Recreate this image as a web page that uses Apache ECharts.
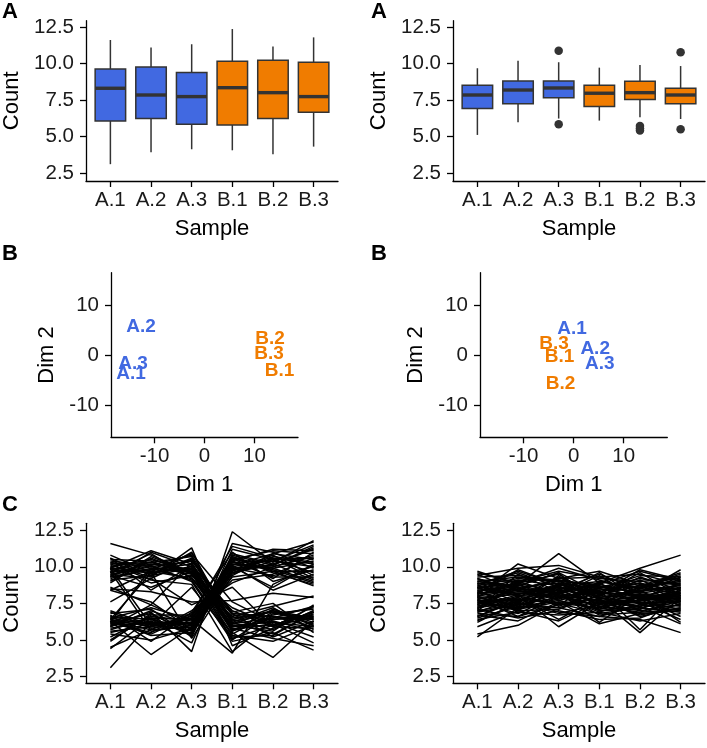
<!DOCTYPE html>
<html>
<head>
<meta charset="utf-8">
<script src="https://cdn.jsdelivr.net/npm/echarts@6/dist/echarts.min.js"></script>
<style>html,body{margin:0;padding:0;background:#fff}#c{width:707px;height:748px}</style>
</head>
<body>
<div id="c"></div>
<script>
// ---------- data ----------
const samples = ['A.1', 'A.2', 'A.3', 'B.1', 'B.2', 'B.3'];
const sampleGroup = ['A', 'A', 'A', 'B', 'B', 'B'];
const yTicks = [2.5, 5.0, 7.5, 10.0, 12.5];
const dimTicks = [-10, 0, 10];

// boxplot stats per sample: [lower whisker, Q1, median, Q3, upper whisker]
const boxLeft = [
  [3.12, 6.08, 8.31, 9.63, 11.61],
  [3.94, 6.24, 7.85, 9.77, 11.09],
  [4.14, 5.85, 7.74, 9.38, 11.32],
  [4.07, 5.80, 8.35, 10.15, 12.36],
  [3.80, 6.24, 8.01, 10.22, 11.16],
  [4.32, 6.67, 7.74, 10.09, 11.79]
];
const boxRight = [
  [5.12, 6.92, 7.85, 8.51, 9.68],
  [5.99, 7.26, 8.19, 8.81, 10.20],
  [6.24, 7.67, 8.33, 8.81, 10.09],
  [6.10, 7.06, 7.97, 8.51, 9.72],
  [6.33, 7.55, 8.01, 8.79, 9.90],
  [6.21, 7.26, 7.85, 8.31, 9.83]
];
// outliers (right boxplot): sample name, value
const outlierSample = ['A.3', 'A.3', 'B.2', 'B.2', 'B.2', 'B.3', 'B.3'];
const outlierValue = [10.88, 5.85, 5.73, 5.58, 5.42, 10.77, 5.51];

// MDS plots
const mdsNames = ['A.1', 'A.2', 'A.3', 'B.1', 'B.2', 'B.3'];
const mdsLeftX = [-14.7, -12.7, -14.3, 15.0, 13.1, 12.9];
const mdsLeftY = [-3.7, 5.7, -1.7, -3.1, 3.3, 0.3];
const mdsRightX = [-0.3, 4.3, 5.2, -2.8, -2.6, -3.9];
const mdsRightY = [5.3, 1.2, -1.8, -0.3, -5.8, 2.3];

// per-gene counts across samples (A.1 .. B.3)
const linesLeft = [
  [9.6, 10.2, 9.8, 5.9, 6.3, 5.6], [10.3, 9.5, 10.6, 6.2, 5.4, 6.8],
  [9.2, 9.9, 9.1, 5.1, 6.0, 6.5], [11.6, 10.8, 9.6, 6.8, 6.6, 5.9],
  [9.9, 11.1, 10.2, 5.6, 7.1, 6.2], [10.1, 9.3, 11.3, 4.6, 5.8, 7.0],
  [9.4, 8.6, 9.7, 6.5, 6.9, 6.4], [10.5, 10.4, 9.3, 5.3, 4.9, 6.0],
  [9.7, 9.8, 10.9, 7.6, 6.2, 5.2], [8.9, 10.6, 9.5, 6.0, 5.6, 7.4],
  [10.2, 9.1, 8.8, 4.2, 6.4, 6.7], [9.5, 10.0, 10.4, 6.9, 7.5, 5.5],
  [10.8, 9.6, 9.9, 5.8, 5.1, 4.6], [9.3, 11.0, 10.0, 6.3, 6.7, 7.2],
  [10.0, 8.9, 9.4, 7.2, 6.0, 6.9], [9.8, 10.3, 10.7, 5.5, 3.8, 6.3],
  [8.4, 9.7, 9.2, 6.6, 7.3, 8.0], [10.4, 10.1, 9.0, 4.9, 5.5, 4.3],
  [9.1, 9.4, 11.0, 6.1, 6.5, 6.6], [10.6, 8.4, 10.1, 7.0, 5.9, 5.8],
  [9.0, 10.7, 9.6, 5.0, 6.8, 7.1], [8.6, 7.4, 10.3, 5.7, 6.1, 4.8],
  [6.2, 9.9, 9.8, 6.4, 7.0, 6.0], [9.9, 6.0, 8.6, 5.2, 5.3, 6.9],
  [9.8, 9.6, 10.0, 6.0, 6.2, 5.9], [10.0, 10.5, 9.7, 5.7, 6.6, 6.4],
  [9.5, 9.2, 10.5, 6.4, 5.7, 7.0], [10.3, 10.0, 9.5, 5.4, 6.9, 6.1],
  [9.3, 9.8, 10.2, 6.7, 6.4, 6.6], [10.6, 9.4, 9.9, 6.2, 7.2, 5.7],
  [9.6, 10.9, 9.2, 5.9, 6.0, 6.9], [9.9, 9.7, 10.5, 6.8, 5.2, 6.3],
  [10.2, 10.3, 9.6, 5.6, 6.5, 7.3], [9.4, 10.1, 10.8, 6.1, 7.0, 6.5],
  [6.1, 6.4, 5.8, 10.2, 9.9, 10.4], [5.6, 5.9, 6.5, 9.6, 10.6, 9.2],
  [6.4, 5.3, 5.5, 10.8, 10.1, 11.3], [3.1, 6.2, 6.0, 9.9, 9.4, 10.0],
  [6.8, 7.1, 5.2, 11.2, 10.5, 9.6], [5.2, 6.6, 6.3, 10.5, 11.1, 10.9],
  [6.3, 4.0, 5.9, 9.3, 9.7, 8.7], [6.0, 6.9, 4.2, 12.4, 10.3, 11.8],
  [4.5, 5.7, 6.8, 10.0, 8.6, 10.2], [6.6, 6.1, 5.6, 9.8, 10.8, 9.4],
  [5.9, 7.4, 6.1, 10.6, 9.2, 11.0], [6.2, 5.5, 7.0, 8.9, 10.0, 10.7],
  [4.9, 6.8, 5.4, 11.6, 11.0, 9.9], [7.0, 6.0, 6.6, 10.3, 9.8, 8.9],
  [5.4, 5.0, 5.8, 9.5, 10.4, 11.5], [6.5, 7.2, 6.4, 4.1, 8.8, 10.1],
  [5.8, 6.3, 4.8, 10.9, 10.2, 9.1], [6.9, 5.8, 6.2, 9.1, 9.5, 10.6],
  [4.4, 6.5, 5.3, 10.4, 11.2, 11.1], [6.7, 4.9, 6.9, 11.0, 9.0, 9.8],
  [8.4, 7.6, 5.7, 9.7, 10.7, 10.3], [5.0, 6.7, 6.7, 10.1, 8.4, 9.5],
  [6.4, 9.6, 5.1, 9.4, 10.9, 11.7], [9.7, 5.6, 6.0, 10.7, 9.6, 8.8],
  [6.0, 6.2, 6.1, 10.3, 10.4, 10.0], [6.3, 5.7, 5.9, 9.8, 10.0, 10.8],
  [5.7, 6.5, 6.4, 10.6, 9.7, 9.7], [6.5, 6.0, 5.7, 10.1, 10.9, 10.5],
  [6.1, 6.8, 5.4, 9.6, 10.2, 11.2], [5.5, 6.1, 6.2, 10.4, 9.3, 9.3],
  [6.2, 5.4, 6.7, 11.4, 10.6, 10.2], [6.6, 6.4, 5.6, 9.9, 10.1, 11.4],
  [5.9, 7.0, 6.0, 10.7, 9.9, 9.0], [6.4, 5.9, 6.5, 10.0, 10.5, 10.6],
  [8.5, 8.3, 7.6, 7.7, 8.2, 7.9], [7.6, 9.2, 7.4, 8.6, 5.9, 7.3]
];
const linesRight = [
  [7.8, 8.2, 8.4, 8.0, 7.9, 7.7], [8.5, 9.1, 8.7, 7.4, 8.6, 8.1],
  [6.9, 7.4, 7.9, 8.3, 7.6, 7.3], [9.7, 8.8, 10.9, 8.9, 9.9, 10.8],
  [5.2, 7.2, 7.7, 7.1, 8.0, 7.8], [5.4, 6.0, 7.5, 6.8, 7.2, 6.9],
  [8.1, 10.2, 9.2, 9.7, 8.8, 8.4], [7.3, 7.9, 6.4, 7.9, 7.5, 8.6],
  [8.9, 8.6, 8.9, 8.5, 9.4, 9.3], [7.6, 6.8, 8.1, 7.3, 6.9, 7.1],
  [8.3, 8.9, 9.9, 9.1, 8.3, 7.5], [6.6, 7.7, 8.6, 7.8, 5.5, 7.9],
  [9.2, 8.4, 7.8, 8.7, 7.8, 8.9], [7.1, 9.5, 8.3, 6.2, 8.1, 6.2],
  [8.6, 7.6, 8.8, 8.2, 9.8, 9.1], [7.9, 8.1, 5.9, 7.6, 7.7, 8.0],
  [6.5, 7.3, 7.2, 6.6, 6.4, 5.5], [9.4, 9.9, 10.1, 9.3, 8.7, 9.6],
  [8.0, 7.0, 8.5, 8.4, 8.9, 7.6], [7.4, 8.7, 9.6, 7.0, 7.3, 8.3],
  [8.7, 8.0, 7.4, 9.0, 8.5, 9.4], [6.8, 6.6, 8.0, 7.7, 6.7, 7.2],
  [9.0, 9.3, 9.1, 8.6, 9.2, 8.7], [7.7, 7.8, 6.9, 6.6, 7.4, 7.0],
  [8.2, 8.5, 8.2, 8.8, 8.2, 9.8], [7.0, 7.5, 9.4, 7.2, 7.9, 6.6],
  [8.8, 9.6, 8.6, 8.1, 9.6, 8.0], [6.7, 6.3, 7.6, 7.5, 7.0, 7.4],
  [9.5, 8.3, 8.4, 9.5, 8.4, 8.5], [7.5, 8.6, 7.3, 8.3, 8.0, 7.8],
  [8.4, 7.1, 8.9, 7.9, 7.1, 8.2], [6.4, 6.9, 6.7, 6.9, 6.3, 6.8],
  [9.1, 9.0, 9.7, 9.2, 9.0, 9.2], [7.2, 8.0, 8.0, 7.3, 7.6, 6.4],
  [8.6, 8.8, 7.7, 8.4, 5.7, 8.6], [7.9, 7.4, 8.7, 7.4, 8.8, 7.3],
  [6.2, 7.6, 8.3, 6.7, 6.9, 7.7], [9.3, 9.4, 9.0, 8.8, 9.7, 9.0],
  [8.0, 8.9, 9.5, 7.8, 8.3, 8.8], [7.1, 6.5, 7.0, 6.4, 6.5, 7.5],
  [8.5, 8.2, 8.1, 9.4, 7.7, 7.9], [5.9, 7.0, 6.3, 7.6, 7.3, 6.1],
  [8.8, 9.7, 8.8, 8.0, 9.3, 8.4], [7.5, 7.2, 7.8, 8.6, 8.6, 9.5],
  [8.2, 8.3, 8.5, 7.1, 7.5, 7.6], [6.9, 7.9, 9.3, 8.1, 8.7, 8.9],
  [9.6, 8.9, 8.2, 9.6, 7.8, 8.1], [7.7, 7.1, 7.6, 6.1, 6.8, 7.0],
  [8.0, 8.4, 8.6, 8.2, 8.1, 8.0], [7.6, 7.7, 8.2, 7.7, 7.9, 8.3],
  [8.4, 8.6, 7.9, 8.5, 8.0, 7.4], [7.3, 8.1, 8.8, 7.9, 8.4, 8.7],
  [8.7, 9.2, 9.0, 8.3, 8.9, 8.2], [7.9, 7.3, 8.3, 8.9, 7.4, 7.8],
  [6.6, 7.8, 7.5, 7.2, 8.5, 9.1], [8.9, 8.0, 8.4, 7.5, 7.6, 7.1],
  [7.4, 8.5, 9.1, 8.7, 8.2, 8.6], [8.3, 7.5, 7.2, 8.0, 9.1, 8.0],
  [7.0, 8.8, 8.0, 6.9, 7.8, 7.6], [9.2, 8.1, 8.7, 9.0, 8.6, 9.0],
  [8.1, 9.0, 8.2, 7.6, 8.0, 8.5], [7.7, 7.0, 7.1, 8.1, 7.2, 7.7],
  [8.6, 8.4, 9.2, 9.3, 9.5, 8.8], [6.3, 7.4, 8.1, 7.0, 7.1, 8.4],
  [8.2, 9.8, 8.8, 8.6, 8.3, 9.3], [7.8, 6.6, 7.4, 7.8, 6.6, 7.2],
  [9.0, 8.7, 9.6, 8.2, 8.1, 7.9], [7.2, 7.6, 6.8, 7.4, 7.9, 8.2]
];

// ---------- styling ----------
const FONT = "'Liberation Sans', Arial, Helvetica, sans-serif";
const groupColor = { A: '#4169E1', B: '#F07C00' };
const TXT = '#1a1a1a';
const axisLineStyle = { color: '#000', width: 1.3 };
const TICK_FS = 20.5;
const TITLE_FS = 22;

const grids = [
  { left: 83, top: 20.7, width: 255, height: 160.3 },
  { left: 453, top: 20.7, width: 252, height: 160.3 },
  { left: 111, top: 272.7, width: 187, height: 164.6 },
  { left: 480, top: 272.7, width: 187.3, height: 164.6 },
  { left: 83, top: 523.3, width: 255, height: 160 },
  { left: 453, top: 523.3, width: 252, height: 160 }
];

const sampleIdx = samples.map((s, i) => i + 1);

function sampleAxis(gi) {
  return {
    type: 'value', gridIndex: gi, min: 0.4, max: 6.6,
    splitLine: { show: false },
    axisLine: { show: true, onZero: false, lineStyle: axisLineStyle },
    axisTick: { show: true, customValues: sampleIdx, length: 6, lineStyle: axisLineStyle },
    axisLabel: { customValues: sampleIdx, formatter: v => samples[Math.round(v) - 1] || '',
      margin: 9, fontSize: TICK_FS, color: TXT, fontFamily: FONT },
    name: 'Sample', nameLocation: 'middle', nameGap: 37,
    nameTextStyle: { fontSize: TITLE_FS, color: '#000', fontFamily: FONT }
  };
}
function countAxis(gi, mn, mx) {
  return {
    type: 'value', gridIndex: gi, min: mn, max: mx,
    splitLine: { show: false },
    axisLine: { show: true, onZero: false, lineStyle: axisLineStyle },
    axisTick: { show: true, customValues: yTicks, length: 6, lineStyle: axisLineStyle },
    axisLabel: { customValues: yTicks, formatter: v => v.toFixed(1),
      margin: 12, fontSize: TICK_FS, color: TXT, fontFamily: FONT },
    name: 'Count', nameLocation: 'middle', nameGap: 63, nameRotate: 90,
    nameTextStyle: { fontSize: TITLE_FS, color: '#000', fontFamily: FONT }
  };
}
function dimAxis(gi, isX) {
  return {
    type: 'value', gridIndex: gi,
    min: isX ? -18.7 : -16.5, max: isX ? 18.7 : 16.5,
    splitLine: { show: false },
    axisLine: { show: true, onZero: false, lineStyle: axisLineStyle },
    axisTick: { show: true, customValues: dimTicks, length: 6, lineStyle: axisLineStyle },
    axisLabel: { customValues: dimTicks, formatter: v => String(v),
      margin: isX ? 9 : 12, fontSize: TICK_FS, color: TXT, fontFamily: FONT },
    name: isX ? 'Dim 1' : 'Dim 2', nameLocation: 'middle', nameGap: isX ? 37 : 53,
    nameRotate: isX ? 0 : 90,
    nameTextStyle: { fontSize: TITLE_FS, color: '#000', fontFamily: FONT }
  };
}

const xAxes = [sampleAxis(0), sampleAxis(1), dimAxis(2, true), dimAxis(3, true), sampleAxis(4), sampleAxis(5)];
const yAxes = [countAxis(0, 1.97, 12.93), countAxis(1, 1.97, 12.93), dimAxis(2, false), dimAxis(3, false),
  countAxis(4, 2.03, 12.98), countAxis(5, 2.03, 12.98)];

function renderBox(params, api) {
  const x = api.value(0);
  const pLo = api.coord([x, api.value(1)]);
  const pQ1 = api.coord([x, api.value(2)]);
  const pMed = api.coord([x, api.value(3)]);
  const pQ3 = api.coord([x, api.value(4)]);
  const pHi = api.coord([x, api.value(5)]);
  const hw = api.size([0.75, 0])[0] / 2;
  const fill = groupColor[sampleGroup[Math.round(x) - 1]];
  const ls = { stroke: '#333', lineWidth: 1.5 };
  return {
    type: 'group',
    children: [
      { type: 'line', shape: { x1: pHi[0], y1: pHi[1], x2: pQ3[0], y2: pQ3[1] }, style: ls },
      { type: 'line', shape: { x1: pQ1[0], y1: pQ1[1], x2: pLo[0], y2: pLo[1] }, style: ls },
      { type: 'rect', shape: { x: pQ3[0] - hw, y: pQ3[1], width: 2 * hw, height: pQ1[1] - pQ3[1] },
        style: { fill: fill, stroke: '#333', lineWidth: 1.5 } },
      { type: 'line', shape: { x1: pMed[0] - hw, y1: pMed[1], x2: pMed[0] + hw, y2: pMed[1] },
        style: { stroke: '#333', lineWidth: 3.4 } }
    ]
  };
}

function boxSeries(gi, stats) {
  return {
    type: 'custom', xAxisIndex: gi, yAxisIndex: gi, renderItem: renderBox, silent: true,
    encode: { x: 0, y: [1, 2, 3, 4, 5] },
    data: stats.map((s, i) => [i + 1].concat(s)), z: 3
  };
}

const series = [boxSeries(0, boxLeft), boxSeries(1, boxRight)];
series.push({
  type: 'scatter', xAxisIndex: 1, yAxisIndex: 1, silent: true, symbolSize: 8.5,
  itemStyle: { color: '#333', opacity: 1 }, z: 4,
  data: outlierSample.map((s, i) => [samples.indexOf(s) + 1, outlierValue[i]])
});

function renderLabel(params, api) {
  const p = api.coord([api.value(0), api.value(1)]);
  const name = mdsNames[api.value(2)];
  return {
    type: 'text', x: p[0], y: p[1],
    style: { text: name, fill: groupColor[name.charAt(0)], font: 'bold 19px ' + FONT,
      align: 'center', verticalAlign: 'middle' }
  };
}
function mdsSeries(gi, xs, ys) {
  return {
    type: 'custom', xAxisIndex: gi, yAxisIndex: gi, silent: true, renderItem: renderLabel,
    encode: { x: 0, y: 1 },
    data: mdsNames.map((n, i) => [xs[i], ys[i], i])
  };
}
series.push(mdsSeries(2, mdsLeftX, mdsLeftY));
series.push(mdsSeries(3, mdsRightX, mdsRightY));

function addLines(gi, lines) {
  lines.forEach(vals => {
    series.push({
      type: 'line', xAxisIndex: gi, yAxisIndex: gi, silent: true, symbol: 'none',
      lineStyle: { color: '#000', width: 1.5 },
      data: vals.map((v, i) => [i + 1, v])
    });
  });
}
addLines(4, linesLeft);
addLines(5, linesRight);

function letter(t, x, y) {
  return { type: 'text', left: x, top: y, style: { text: t, font: 'bold 22px ' + FONT, fill: '#000' } };
}

const chart = echarts.init(document.getElementById('c'), null, { renderer: 'canvas' });
chart.setOption({
  backgroundColor: '#fff',
  animation: false,
  grid: grids,
  xAxis: xAxes,
  yAxis: yAxes,
  series: series,
  graphic: [
    letter('A', 2, 1), letter('A', 371, 1),
    letter('B', 2, 243), letter('B', 371, 243),
    letter('C', 2, 494), letter('C', 371, 494)
  ]
});
</script>
</body>
</html>
